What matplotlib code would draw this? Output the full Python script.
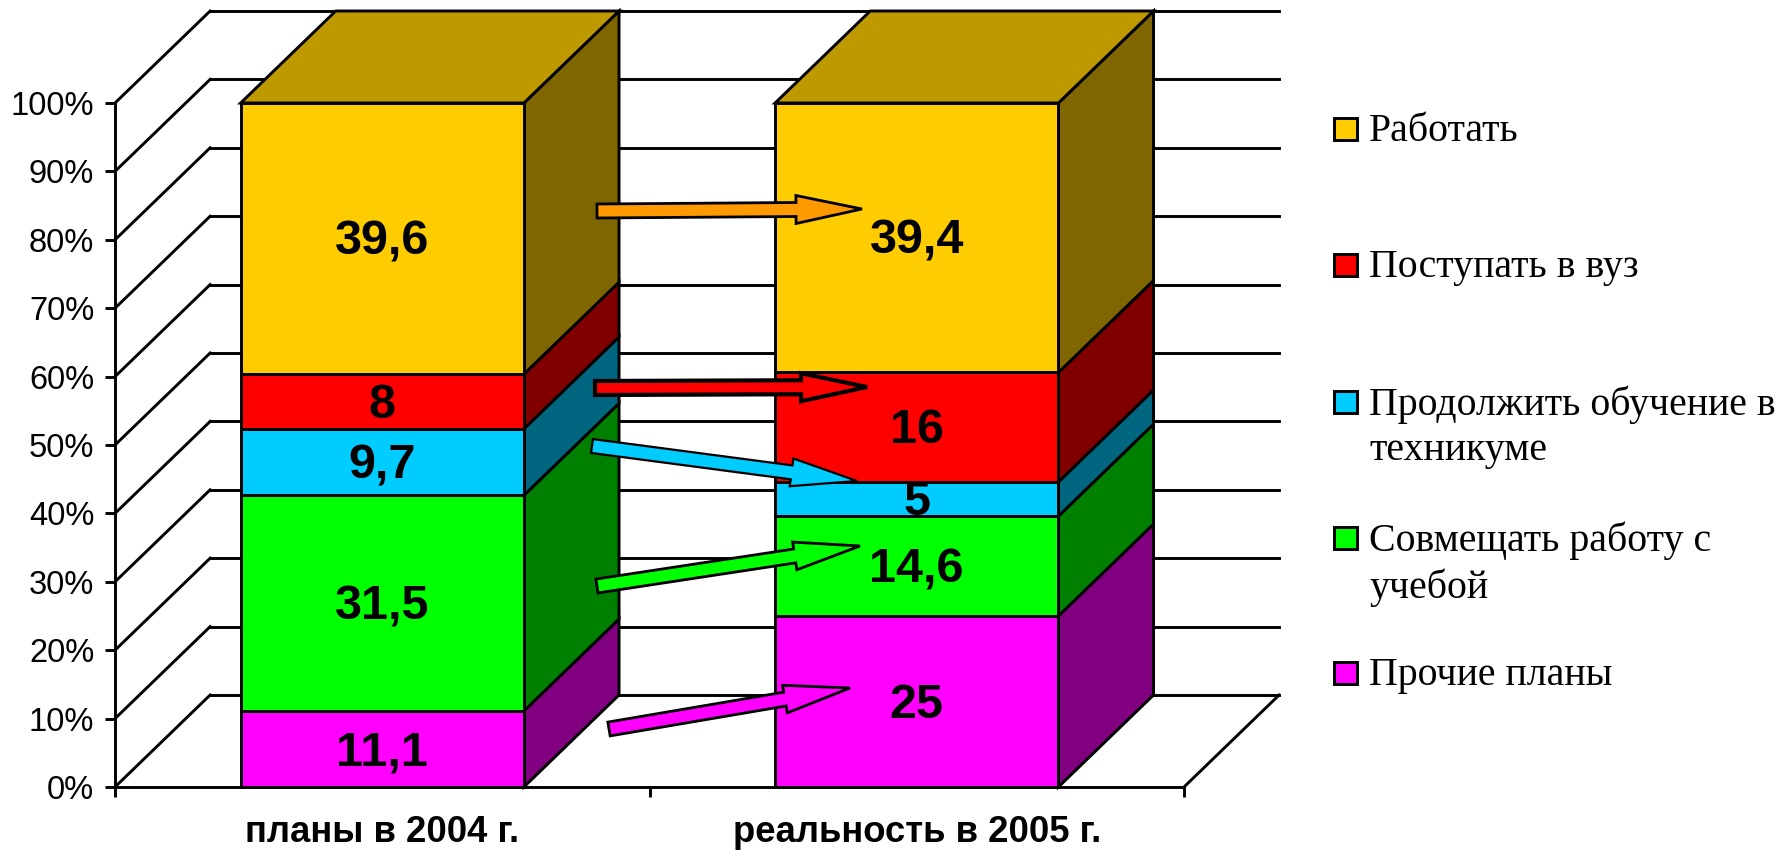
import matplotlib
matplotlib.use("Agg")
import matplotlib.pyplot as plt
import numpy as np

# Данные
categories = ["планы в 2004 г.", "реальность в 2005 г."]
series_names = ["Прочие планы", "Совмещать работу с\nучебой", "Продолжить обучение в\nтехникуме",
                "Поступать в вуз", "Работать"]
plan_2004 = [11.1, 31.5, 9.7, 8, 39.6]
real_2005 = [25, 14.6, 5, 16, 39.4]
value_labels_2004 = ["11,1", "31,5", "9,7", "8", "39,6"]
value_labels_2005 = ["25", "14,6", "5", "16", "39,4"]
y_ticks = [0, 10, 20, 30, 40, 50, 60, 70, 80, 90, 100]

front_colors = ["#FF00FF", "#00FF00", "#00CCFF", "#FF0000", "#FFCC00"]
side_colors = ["#800080", "#008000", "#006680", "#800000", "#806600"]
top_color = "#BF9900"

W, H = 1785, 850
LW = 2.1
depth_x = 0.178  # глубина в единицах оси x
depth_y = 13.45  # глубина в единицах оси y
bar_width = 0.53

fig = plt.figure(figsize=(W / 100, H / 100), dpi=100)
ax = fig.add_axes([115 / W, (H - 787) / H, 1069 / W, 684 / H])
ax.set_xlim(0, 2)
ax.set_ylim(0, 100)
ax.spines["top"].set_visible(False)
ax.spines["right"].set_visible(False)
ax.spines["left"].set_linewidth(LW)
ax.spines["bottom"].set_linewidth(LW)
ax.patch.set_alpha(0)

# Стенки и сетка
for t in y_ticks:
    ax.plot([0, depth_x], [t, t + depth_y], color="black", lw=LW, clip_on=False, zorder=1)
    ax.plot([depth_x, 2 + depth_x], [t + depth_y, t + depth_y], color="black", lw=LW, clip_on=False, zorder=1)
ax.plot([2, 2 + depth_x], [0, depth_y], color="black", lw=LW, clip_on=False, zorder=1)


def draw_bar(center, values, labels):
    total = sum(values)
    left = center - bar_width / 2
    right = center + bar_width / 2
    bottom = 0
    for value, label, front, side in zip(values, labels, front_colors, side_colors):
        top = bottom + value / total * 100
        ax.fill([right, right + depth_x, right + depth_x, right],
                [bottom, bottom + depth_y, top + depth_y, top],
                facecolor=side, edgecolor="black", lw=LW, clip_on=False, zorder=3)
        ax.fill([left, right, right, left], [bottom, bottom, top, top],
                facecolor=front, edgecolor="black", lw=LW, clip_on=False, zorder=4)
        ax.annotate(label, (center, (bottom + top) / 2), xytext=(0, 1), textcoords="offset points",
                    ha="center", va="center_baseline", family="Liberation Sans",
                    weight="bold", fontsize=35, zorder=5)
        bottom = top
    ax.fill([left, right, right + depth_x, left + depth_x],
            [100, 100, 100 + depth_y, 100 + depth_y],
            facecolor=top_color, edgecolor="black", lw=LW, clip_on=False, zorder=3)


draw_bar(0.5, plan_2004, value_labels_2004)
draw_bar(1.5, real_2005, value_labels_2005)

# Оси
ax.set_yticks(y_ticks)
ax.set_yticklabels([f"{t}%" for t in y_ticks], family="Liberation Sans", fontsize=23.5)
ax.tick_params(axis="y", length=7, width=LW, pad=8)
ax.set_xticks([0, 1, 2])
ax.set_xticklabels([])
ax.set_xticks([0.5, 1.5], minor=True)
ax.set_xticklabels(categories, minor=True, family="Liberation Sans", weight="bold", fontsize=26.3)
ax.tick_params(axis="x", which="major", length=7, width=LW)
ax.tick_params(axis="x", which="minor", length=0, pad=20)

# Слой в пикселях для легенды и стрелок
over = fig.add_axes([0, 0, 1, 1])
over.set_xlim(0, W)
over.set_ylim(H, 0)
over.axis("off")

legend_y = [673, 538, 402, 265, 129]
for name, color, y in zip(series_names, front_colors, legend_y):
    over.fill([1334, 1357, 1357, 1334], [y - 11, y - 11, y + 11, y + 11],
              facecolor=color, edgecolor="black", lw=LW)
    over.text(1369, y - 16.5, name, family="Liberation Serif", fontsize=28.7,
              va="top", ha="left", linespacing=1.3)

# Стрелки: начало, конец, цвет, толщина контура
arrow_starts = [(597, 211), (595, 388), (592, 446), (597, 586), (609, 729)]
arrow_ends = [(862, 209), (867, 387), (857, 481), (860, 546), (850, 688)]
arrow_colors = ["#FF9900", "#FF0000", "#00CCFF", "#00FF00", "#FF00FF"]
arrow_widths = [2.0, 3.0, 1.6, 2.0, 2.0]


def draw_arrow(start, end, color, width):
    start = np.array(start, dtype=float)
    end = np.array(end, dtype=float)
    d = end - start
    length = np.hypot(*d)
    u = d / length
    n = np.array([-u[1], u[0]])
    base = end - u * 66
    pts = [start + n * 7, base + n * 7, base + n * 14, end,
           base - n * 14, base - n * 7, start - n * 7]
    over.fill([p[0] for p in pts], [p[1] for p in pts], facecolor=color,
              edgecolor="black", lw=width, joinstyle="miter", zorder=6)


for s, e, c, w in zip(arrow_starts, arrow_ends, arrow_colors, arrow_widths):
    draw_arrow(s, e, c, w)

fig.savefig("out.png", dpi=100)
